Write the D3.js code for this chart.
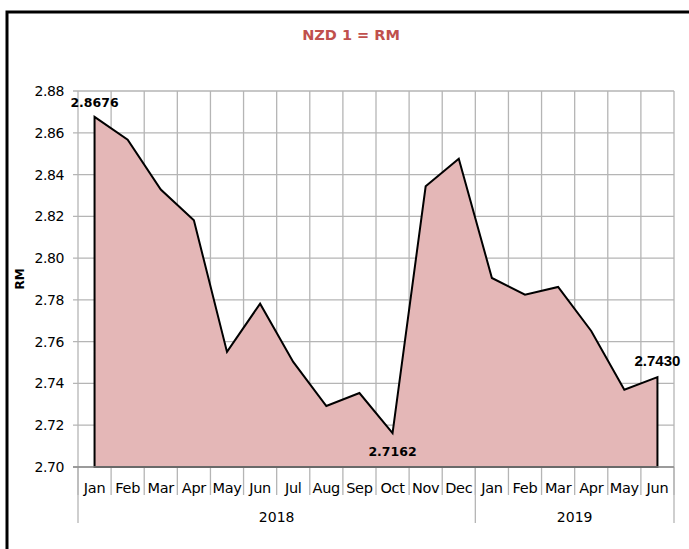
<!DOCTYPE html>
<html>
<head>
<meta charset="utf-8">
<script src="https://cdn.jsdelivr.net/npm/d3@7"></script>
<style>
  body { margin: 0; background: #fff; }
  svg { display: block; font-family: "Century Gothic", "DejaVu Sans", sans-serif; }
</style>
</head>
<body>
<div class="chart"></div>
<script>
const MONTHS = ["Jan","Feb","Mar","Apr","May","Jun","Jul","Aug","Sep","Oct","Nov","Dec","Jan","Feb","Mar","Apr","May","Jun"]
const YEARS = [{label: "2018", start: 0, end: 12}, {label: "2019", start: 12, end: 18}]
const RATES = [2.8676, 2.8567, 2.8328, 2.8181, 2.7551, 2.7782, 2.7503, 2.7292, 2.7354, 2.7162, 2.8344, 2.8476, 2.7905, 2.7825, 2.7862, 2.7651, 2.7370, 2.7430]
const Y_TICKS = [2.70, 2.72, 2.74, 2.76, 2.78, 2.80, 2.82, 2.84, 2.86, 2.88]
const LABELLED = [0, 9, 17]

const WIDTH = 689, HEIGHT = 549
const LEFT = 78, RIGHT = 674, TOP = 91, BOTTOM = 467

const svg = d3.select(".chart").append("svg").attr("width", WIDTH).attr("height", HEIGHT)

// outer frame
svg.append("rect").attr("x", 7).attr("y", 12).attr("width", 700).attr("height", 560)
  .attr("fill", "none").attr("stroke", "#000").attr("stroke-width", 3)

// title
svg.append("text").attr("x", 351).attr("y", 40).attr("text-anchor", "middle")
  .attr("fill", "#C0504D").attr("font-weight", "bold").attr("font-size", 14.5)
  .text("NZD 1 = RM")

const x = d3.scaleBand().domain(d3.range(MONTHS.length)).range([LEFT, RIGHT]).paddingInner(0).paddingOuter(0)
const y = d3.scaleLinear().domain([2.70, 2.88]).range([BOTTOM, TOP])
const cx = i => x(i) + x.bandwidth() / 2

// grid
const grid = svg.append("g").attr("stroke", "#b5b5b5").attr("stroke-width", 1.3)
grid.selectAll("line.h").data(Y_TICKS).enter().append("line")
  .attr("x1", LEFT - 5).attr("x2", RIGHT).attr("y1", d => y(d)).attr("y2", d => y(d))
grid.selectAll("line.v").data(d3.range(MONTHS.length + 1)).enter().append("line")
  .attr("x1", i => LEFT + i * x.bandwidth()).attr("x2", i => LEFT + i * x.bandwidth())
  .attr("y1", TOP).attr("y2", BOTTOM + 28)
grid.selectAll("line.yr").data([0, 12, 18]).enter().append("line")
  .attr("x1", i => LEFT + i * x.bandwidth()).attr("x2", i => LEFT + i * x.bandwidth())
  .attr("y1", BOTTOM).attr("y2", BOTTOM + 56)

// area
const area = d3.area().x((d, i) => cx(i)).y0(y(2.70)).y1(d => y(d))
svg.append("path").datum(RATES).attr("d", area)
  .attr("fill", "#E4B7B7").attr("stroke", "#000").attr("stroke-width", 2).attr("stroke-linejoin", "miter")

// axis line at bottom
svg.append("line").attr("x1", LEFT - 5).attr("x2", RIGHT).attr("y1", BOTTOM).attr("y2", BOTTOM)
  .attr("stroke", "#8c8c8c").attr("stroke-width", 1.3)

// y tick labels
svg.selectAll("text.yt").data(Y_TICKS).enter().append("text")
  .attr("x", 64).attr("y", d => y(d) + 5).attr("text-anchor", "end")
  .attr("font-size", 14).attr("letter-spacing", -0.4).attr("fill", "#000").text(d => d.toFixed(2))

// y axis title
svg.append("text").attr("transform", `translate(24, ${(TOP + BOTTOM) / 2}) rotate(-90)`)
  .attr("text-anchor", "middle").attr("font-weight", "bold").attr("font-size", 12).text("RM")

// month labels
svg.selectAll("text.m").data(MONTHS).enter().append("text")
  .attr("x", (d, i) => cx(i)).attr("y", BOTTOM + 26).attr("text-anchor", "middle")
  .attr("font-size", 14.5).attr("letter-spacing", -0.3).text(d => d)

// year labels
svg.selectAll("text.yr").data(YEARS).enter().append("text")
  .attr("x", d => LEFT + (d.start + d.end) / 2 * x.bandwidth()).attr("y", BOTTOM + 55)
  .attr("text-anchor", "middle").attr("font-size", 14).text(d => d.label)

// data labels
const labelDy = {0: -10, 9: 23, 17: -11}
svg.selectAll("text.dl").data(LABELLED).enter().append("text")
  .attr("x", i => cx(i)).attr("y", i => y(RATES[i]) + labelDy[i]).attr("text-anchor", "middle")
  .attr("font-weight", "bold").attr("font-size", i => i === 17 ? 15 : 12.5)
  .attr("font-family", i => i === 17 ? "Liberation Sans, Arial, sans-serif" : null)
  .text(i => RATES[i].toFixed(4))
</script>
</body>
</html>
